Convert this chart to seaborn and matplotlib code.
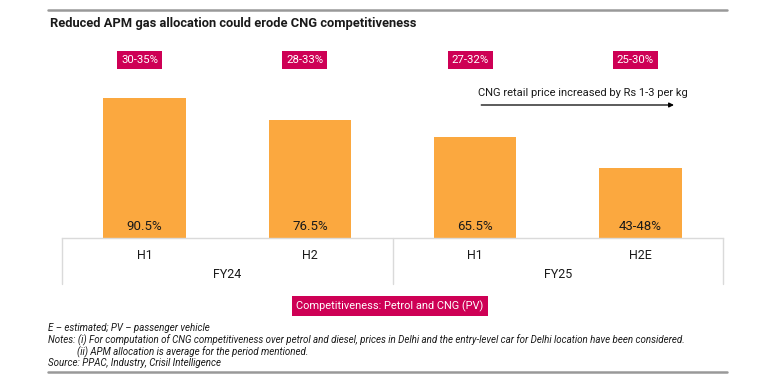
import matplotlib
matplotlib.use('Agg')
import matplotlib.pyplot as plt
import seaborn as sns
import pandas as pd
from matplotlib.lines import Line2D

# data
periods = ['FY24 H1', 'FY24 H2', 'FY25 H1', 'FY25 H2E']
half_labels = ['H1', 'H2', 'H1', 'H2E']
years = ['FY24', 'FY25']
apm_allocation = [90.5, 76.5, 65.5, 45.5]
bar_labels = ['90.5%', '76.5%', '65.5%', '43-48%']
competitiveness = ['30-35%', '28-33%', '27-32%', '25-30%']

orange = '#FBA83F'
crimson = '#CE0055'
grey_line = '#DADADA'

sns.set_theme(style='white')
plt.rcParams['font.family'] = ['Roboto', 'DejaVu Sans']

df = pd.DataFrame({'period': periods, 'value': apm_allocation})

fig = plt.figure(figsize=(7.63, 3.87), dpi=100)
W, H = 763, 387
ax = fig.add_axes([62 / W, 1 - 238 / H, 661 / W, 198 / H])

sns.barplot(data=df, x='period', y='value', color=orange, width=0.5,
            saturation=1, ax=ax, edgecolor='none')
ax.set_xlim(-0.5, 3.5)
ax.set_ylim(0, 198 / 1.545)
ax.set_xlabel('')
ax.set_ylabel('')
ax.set_yticks([])
ax.set_xticks(range(4))
ax.set_xticklabels(half_labels, fontsize=9, color='#1a1a1a')
ax.tick_params(axis='x', length=0, pad=8)
for s in ['left', 'right', 'top']:
    ax.spines[s].set_visible(False)
ax.spines['bottom'].set_color(grey_line)
ax.spines['bottom'].set_linewidth(1)

# labels inside bars
for i, lab in enumerate(bar_labels):
    ax.text(i, 7.5, lab, ha='center', va='center', fontsize=9.5, color='#1a1a1a')

# competitiveness labels above bars
for i, lab in enumerate(competitiveness):
    ax.text(i - 0.03, 178 / 1.545, lab, ha='center', va='center', fontsize=8.2,
            color='white',
            bbox=dict(boxstyle='square,pad=0.35', fc=crimson, ec='none'))

# arrow annotation
ax.annotate('', xy=(3.22, 133 / 1.545), xytext=(2.02, 133 / 1.545),
            arrowprops=dict(arrowstyle='-|>', color='black', lw=0.9,
                            mutation_scale=7), annotation_clip=False)
ax.text(2.02, 145 / 1.545, 'CNG retail price increased by Rs 1-3 per kg',
        ha='left', va='center', fontsize=8, color='#1a1a1a')

# category frame below the axis
tr = ax.get_xaxis_transform()
for xv in [-0.5, 1.5, 3.5]:
    ax.plot([xv, xv], [0, -46 / 198], color=grey_line, lw=1, transform=tr,
            clip_on=False)
for j, yr in enumerate(years):
    ax.text(0.5 + 2 * j, -37 / 198, yr, transform=tr, ha='center',
            va='center', fontsize=9, color='#1a1a1a')

# legend-like box
fig.text(390 / W, 1 - 306 / H, 'Competitiveness: Petrol and CNG (PV)',
         ha='center', va='center', fontsize=7.9, color='white',
         bbox=dict(boxstyle='square,pad=0.4', fc=crimson, ec='none'))

# title and rules
fig.add_artist(Line2D([48 / W, 727 / W], [1 - 10 / H, 1 - 10 / H],
                      color='#999999', lw=1.8))
fig.add_artist(Line2D([48 / W, 727 / W], [1 - 372 / H, 1 - 372 / H],
                      color='#999999', lw=1.8))
fig.text(50 / W, 1 - 23 / H,
         'Reduced APM gas allocation could erode CNG competitiveness',
         ha='left', va='center', fontsize=9.3, fontweight='bold',
         color='#1a1a1a')

notes = [
    (48, 328, 'E \u2013 estimated; PV \u2013 passenger vehicle'),
    (48, 340, 'Notes: (i) For computation of CNG competitiveness over petrol and diesel, '
              'prices in Delhi and the entry-level car for Delhi location have been considered.'),
    (77, 352, '(ii) APM allocation is average for the period mentioned.'),
    (48, 363, 'Source: PPAC, Industry, Crisil Intelligence'),
]
for x, y, t in notes:
    fig.text(x / W, 1 - y / H, t, ha='left', va='center', fontsize=7.05,
             style='italic', color='#1a1a1a')

fig.savefig('out.png', dpi=100)
